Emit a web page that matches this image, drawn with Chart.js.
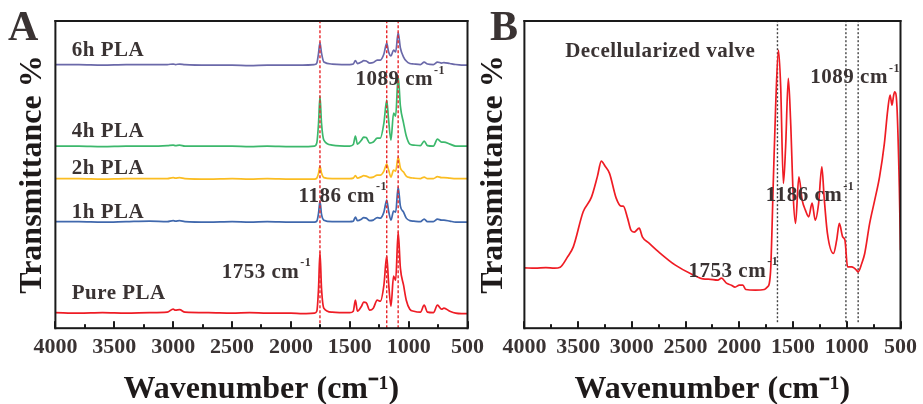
<!DOCTYPE html>
<html lang="en">
<head>
<meta charset="UTF-8" />
<title>FTIR spectra: PLA coatings and decellularized valve</title>
<script src="https://cdn.jsdelivr.net/npm/chart.js@4.4.1/dist/chart.umd.min.js"></script>
<style>
  html, body { margin: 0; padding: 0; background: #fff; overflow: hidden; }
  #wrap { position: relative; width: 923px; height: 404px; overflow: hidden; }
  canvas { position: absolute; top: 0; }
  #chartA { left: 0; }
  #chartB { left: 470px; }
</style>
</head>
<body>
<div id="wrap">
  <canvas id="chartA" width="490" height="410"></canvas>
  <canvas id="chartB" width="453" height="410"></canvas>
</div>
<script>
// labelled wavenumber ticks (cm-1), same for both panels
const xTicks = [4000, 3500, 3000, 2500, 2000, 1500, 1000, 500];

// panel A: wavenumber grid shared by the PLA spectra
const plaWave = [4000, 3800, 3600, 3400, 3200, 3050, 3000, 2980, 2945, 2900,
  2700, 2500, 2350, 2200, 2000, 1900, 1800, 1780, 1765, 1753,
  1740, 1720, 1650, 1500, 1470, 1452, 1435, 1400, 1382, 1360,
  1330, 1300, 1267, 1240, 1210, 1186, 1170, 1150, 1128, 1110,
  1089, 1070, 1043, 1020, 990, 956, 900, 868, 840, 790,
  755, 720, 700, 650, 600, 550, 500];

// stacked spectra (arbitrary offset units)
const pla6h = [263.5, 263.5, 263, 263.5, 263.5, 263.5, 264, 263.5, 264, 263.5,
  263, 263, 262.5, 263, 263, 263, 263.5, 265, 275, 285.5,
  275, 266, 264, 263.5, 264, 267.5, 264.5, 266, 267.5, 267,
  265, 265.5, 268, 268, 274, 285, 276, 272, 278, 276,
  295.5, 280, 271, 267, 264.5, 264, 263.5, 266, 264, 263.5,
  266, 265, 265.5, 264.5, 263.5, 263, 263];
const pla4h = [182, 182, 181.5, 182, 182, 182.5, 183, 182.5, 183, 182,
  182, 182, 181.5, 182, 181.5, 181.5, 182, 185, 205, 232,
  205, 188, 183, 182, 183.5, 192, 184, 188, 191, 190.5,
  185, 186, 190, 190, 205, 228, 208, 188, 215, 212,
  252, 222, 205, 192, 184, 183, 182.5, 187, 182.5, 182,
  189, 186, 186, 184, 182, 182, 182];
const pla2h = [149.5, 149.5, 149, 149.5, 149.5, 149.5, 150.5, 150, 150.5, 149.5,
  149, 149.5, 149, 149.5, 149, 149, 149, 150, 155, 162,
  155, 150.5, 149.5, 149.5, 150, 152.5, 150, 151.5, 152.5, 152,
  150.5, 151, 153, 153, 157, 164, 158, 151, 158, 157,
  171, 160, 156, 152, 150.5, 150, 149.5, 151, 149.5, 149.5,
  151.5, 150.5, 150.5, 150, 149.5, 149.5, 149.5];
const pla1h = [106.5, 106.5, 106, 106.5, 107, 106.5, 107.5, 107, 107.5, 106.5,
  106, 106.5, 106, 106.5, 106, 106, 106, 107, 115, 127,
  114, 108, 106.5, 106.5, 107, 111, 107.5, 109, 110.5, 110,
  107.5, 108, 110.5, 110, 116, 128, 117, 108, 117, 116,
  141, 122, 116, 110, 107.5, 107, 106.5, 109, 106.5, 106.5,
  109, 108, 108, 107, 106, 106, 106];
const plaPure = [15.5, 15, 15.5, 15, 15.5, 16, 19, 18, 18.5, 16,
  15.5, 15, 15.5, 15, 15, 14.5, 15, 17, 40, 76,
  40, 20, 16, 15.5, 17, 28, 17, 22, 26, 25.5,
  18, 20, 28, 27, 43, 72, 45, 22, 52, 48,
  96, 60, 43, 28, 19, 17, 16, 23, 16, 15.5,
  23, 19, 20, 17, 15, 14.5, 14.5];
const plaNames = ['6h PLA', '4h PLA', '2h PLA', '1h PLA', 'Pure PLA'];
const bandsA = [1753, 1186, 1089];

// panel B: decellularized valve
const valveWave = [4000, 3900, 3800, 3720, 3667, 3600, 3545, 3453, 3376, 3320,
  3284, 3250, 3208, 3146, 3100, 3080, 3040, 3008, 2978, 2932,
  2901, 2840, 2748, 2595, 2442, 2320, 2289, 2200, 2166, 2120,
  2074, 2040, 2000, 1967, 1940, 1850, 1767, 1740, 1721, 1707,
  1685, 1661, 1636, 1615, 1590, 1569, 1544, 1523, 1498, 1477,
  1446, 1415, 1385, 1354, 1323, 1293, 1262, 1232, 1211, 1180,
  1124, 1094, 1069, 1038, 1017, 993, 956, 930, 910, 894,
  860, 833, 787, 740, 695, 650, 619, 597, 579, 565,
  554, 533, 511, 500];
const valveT = [60.3, 60, 60.5, 60, 61, 71, 81.3, 116.3, 131, 152,
  167, 162, 154.7, 130, 122, 122, 110, 98, 96, 100,
  91, 85, 76, 63, 54, 49, 49, 48, 50, 45,
  43, 41, 43, 43, 38.7, 38, 38.7, 41, 44.7, 61.3,
  141.3, 224.7, 278, 241.3, 144.7, 181.3, 249.7, 208, 131.3, 104.7,
  151.3, 128, 118, 111.3, 125, 108, 124.7, 161.3, 131.3, 94.7,
  74.7, 88, 104.7, 91.3, 88, 61.3, 61.3, 60, 58, 56.3,
  65, 74.7, 104.7, 128, 151.3, 184.7, 218, 233, 223, 232,
  236.3, 221.3, 141.3, 78];
const bandsB = [1645, 1008, 894];

const serif = "'Liberation Serif', 'Times New Roman', serif";
const ink = '#3a3333';
const frameColor = '#1a1a1a';

const toXY = (xs, ys) => xs.map((x, i) => ({ x: x, y: ys[i] }));

// box round the plot, short inward ticks on the bottom edge, text notes and the panel letter
const decoPlugin = {
  id: 'deco',
  afterDraw(chart, args, opts) {
    const ctx = chart.ctx;
    const a = chart.chartArea;
    const x = chart.scales.x, y = chart.scales.y;
    ctx.save();
    ctx.setLineDash([]);
    ctx.fillStyle = frameColor;
    ctx.fillRect(a.left - 1, a.top - 1, a.right - a.left + 2, 2);
    ctx.fillRect(a.left - 1, a.bottom - 1, a.right - a.left + 2, 2);
    ctx.fillRect(a.left - 1, a.top - 1, 2, a.bottom - a.top + 2);
    ctx.fillRect(a.right - 1, a.top - 1, 2, a.bottom - a.top + 2);

    // inward ticks, long at labelled values and short halfway between
    xTicks.forEach((v, i) => {
      const px = Math.round(x.getPixelForValue(v));
      ctx.fillRect(px - 1, a.bottom - 7, 2, 7);
      if (i < xTicks.length - 1) {
        const m = Math.round(x.getPixelForValue((v + xTicks[i + 1]) / 2));
        ctx.fillRect(m - 1, a.bottom - 4, 2, 4);
      }
    });

    ctx.fillStyle = ink;
    ctx.textAlign = 'left';
    ctx.textBaseline = 'middle';
    ctx.letterSpacing = '0.5px';
    opts.items.forEach(n => {
      const px = x.getPixelForValue(n.x);
      const py = y.getPixelForValue(n.y);
      ctx.font = 'bold ' + n.size + 'px ' + serif;
      ctx.fillText(n.text, px, py);
      if (n.sup) {
        const w = ctx.measureText(n.text).width;
        ctx.font = 'bold ' + Math.round(n.size * 0.55) + 'px ' + serif;
        ctx.fillText(n.sup, px + w + 1, py - n.size * 0.42);
      }
    });
    ctx.letterSpacing = '0px';
    ctx.textBaseline = 'alphabetic';
    ctx.font = 'bold 42px ' + serif;
    ctx.fillText(opts.letter, opts.letterX, 40);
    ctx.restore();
  }
};

function spectrum(data, color) {
  return {
    data: data,
    borderColor: color,
    borderWidth: 1.7,
    pointRadius: 0,
    fill: false,
    cubicInterpolationMode: 'monotone'
  };
}

function bandLine(w, color, dash, y0) {
  return {
    data: [{ x: w, y: y0 }, { x: w, y: 307 }],
    borderColor: color,
    borderWidth: 1.4,
    borderDash: dash,
    pointRadius: 0,
    fill: false
  };
}

function makeOptions(xMin, yTitlePad, pad, notes) {
  return {
    responsive: false,
    animation: false,
    layout: { padding: pad },
    plugins: { legend: { display: false }, tooltip: { enabled: false }, deco: notes },
    scales: {
      x: {
        type: 'linear',
        reverse: true,
        min: xMin,
        max: 4000,
        afterBuildTicks: s => { s.ticks = xTicks.map(v => ({ value: v })); },
        grid: { display: false, drawTicks: false },
        border: { display: false },
        ticks: {
          autoSkip: false,
          maxRotation: 0,
          padding: 6,
          color: ink,
          font: { family: serif, size: 22, weight: 'bold' },
          callback: v => String(v)
        },
        title: {
          display: true,
          text: 'Wavenumber (cm⁻¹)',
          color: '#1e1a1a',
          padding: { top: 4, bottom: 1 },
          font: { family: serif, size: 32, weight: 'bold' }
        }
      },
      y: {
        min: 0,
        max: 307,
        grid: { display: false, drawTicks: false },
        border: { display: false },
        ticks: { display: false },
        title: {
          display: true,
          text: 'Transmittance %',
          color: '#1e1a1a',
          padding: yTitlePad,
          font: { family: serif, size: 32, weight: 'bold' }
        }
      }
    }
  };
}

const plaColors = ['#6b69a9', '#3cb86c', '#fbbd22', '#4068ad', '#ee1c25'];
const plaSeries = [pla6h, pla4h, pla2h, pla1h, plaPure];

new Chart(document.getElementById('chartA'), {
  type: 'line',
  data: {
    datasets: bandsA.map(w => bandLine(w, '#e8262a', [3, 2], 0))
      .concat(plaSeries.map((s, i) => Object.assign(spectrum(toXY(plaWave, s), plaColors[i]), { label: plaNames[i] })))
  },
  options: makeOptions(500, { top: 3, bottom: 3 }, { left: 11, top: 21, right: 19.5, bottom: 0 }, {
    letter: 'A',
    letterX: 8,
    items: [
      { text: '6h PLA', x: 3861, y: 277, size: 21 },
      { text: '4h PLA', x: 3861, y: 196, size: 21 },
      { text: '2h PLA', x: 3861, y: 160, size: 21 },
      { text: '1h PLA', x: 3861, y: 116, size: 21 },
      { text: 'Pure PLA', x: 3861, y: 35, size: 21 },
      { text: '1753 cm', sup: '-1', x: 2588, y: 56, size: 21 },
      { text: '1186 cm', sup: '-1', x: 1935, y: 132, size: 21 },
      { text: '1089 cm', sup: '-1', x: 1451, y: 248, size: 21 }
    ]
  }),
  plugins: [decoPlugin]
});

new Chart(document.getElementById('chartB'), {
  type: 'line',
  data: {
    datasets: [Object.assign(spectrum(toXY(valveWave, valveT), '#ef1c24'), { label: 'Decellularized valve' })]
      .concat(bandsB.map(w => bandLine(w, '#444444', [2, 2], 6)))
  },
  options: makeOptions(500, { top: 3, bottom: 11 }, { left: 2, top: 21, right: 18, bottom: 0 }, {
    letter: 'B',
    letterX: 20,
    items: [
      { text: 'Decellularized valve', x: 3621, y: 276.5, size: 21 },
      { text: '1089 cm', sup: '-1', x: 1339, y: 250, size: 21 },
      { text: '1186 cm', sup: '-1', x: 1753, y: 132.5, size: 21 },
      { text: '1753 cm', sup: '-1', x: 2472, y: 57, size: 21 }
    ]
  }),
  plugins: [decoPlugin]
});
</script>
</body>
</html>
